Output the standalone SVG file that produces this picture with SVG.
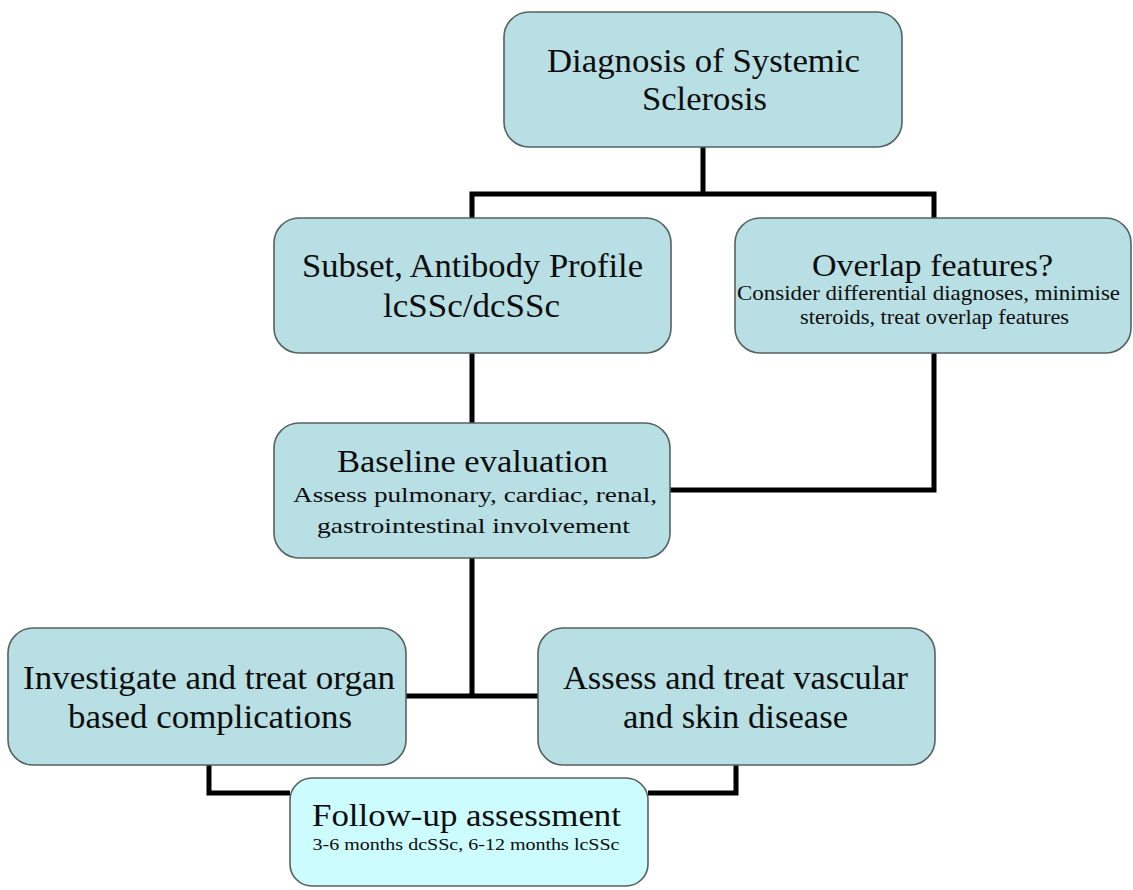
<svg xmlns="http://www.w3.org/2000/svg" width="1133" height="890" viewBox="0 0 1133 890" font-family="'Liberation Serif', Tinos, 'Times New Roman', Times, serif">
<style>
.box{fill:#b8dfe3;stroke:#56625f;stroke-width:1.6}
.fu{fill:#ccfcfd;stroke:#56625f;stroke-width:1.6}
.t{font-family:'Liberation Serif', Tinos, 'Times New Roman', Times, serif;fill:#0d0d0d;text-anchor:middle}
.big{font-size:33px}
.mid{font-size:31px}
.sm{font-size:21px}
.xs{font-size:16px}
.c{fill:none;stroke:#000;stroke-width:5;stroke-linejoin:miter;stroke-linecap:butt}
</style>
<rect width="1133" height="890" fill="#fff"/>
<g id="connectors">
<path class="c" d="M703 147V194"/>
<path class="c" d="M472 218V194H934V218"/>
<path class="c" d="M472 353V423"/>
<path class="c" d="M934 353V490H670"/>
<path class="c" d="M472 558V696"/>
<path class="c" d="M406 696H538"/>
<path class="c" d="M209 765V793H290"/>
<path class="c" d="M736 765V793H648"/>
</g>
<g id="diagnosis">
<rect class="box" x="504" y="12" width="398" height="135" rx="25"/>
<text class="t big" x="703.5" y="72" textLength="313" lengthAdjust="spacingAndGlyphs">Diagnosis of Systemic</text>
<text class="t big" x="704.5" y="110" textLength="125" lengthAdjust="spacingAndGlyphs">Sclerosis</text>
</g>
<g id="subset">
<rect class="box" x="274" y="218" width="397" height="135" rx="25"/>
<text class="t big" x="472.5" y="277" textLength="341" lengthAdjust="spacingAndGlyphs">Subset, Antibody Profile</text>
<text class="t big" x="471.5" y="317" textLength="177" lengthAdjust="spacingAndGlyphs">lcSSc/dcSSc</text>
</g>
<g id="overlap">
<rect class="box" x="735" y="218" width="396" height="135" rx="25"/>
<text class="t mid" x="932.5" y="276" textLength="241" lengthAdjust="spacingAndGlyphs">Overlap features?</text>
<text class="t sm" x="928.5" y="300" textLength="383" lengthAdjust="spacingAndGlyphs">Consider differential diagnoses, minimise</text>
<text class="t sm" x="934.5" y="324" textLength="269" lengthAdjust="spacingAndGlyphs">steroids, treat overlap features</text>
</g>
<g id="baseline">
<rect class="box" x="274" y="423" width="396" height="135" rx="25"/>
<text class="t mid" x="472.5" y="472" textLength="271" lengthAdjust="spacingAndGlyphs">Baseline evaluation</text>
<text class="t sm" x="475" y="502" textLength="364" lengthAdjust="spacingAndGlyphs">Assess pulmonary, cardiac, renal,</text>
<text class="t sm" x="473.5" y="533" textLength="313" lengthAdjust="spacingAndGlyphs">gastrointestinal involvement</text>
</g>
<g id="investigate">
<rect class="box" x="8" y="628" width="398" height="137" rx="25"/>
<text class="t big" x="209" y="689" textLength="372" lengthAdjust="spacingAndGlyphs">Investigate and treat organ</text>
<text class="t big" x="210" y="728" textLength="284" lengthAdjust="spacingAndGlyphs">based complications</text>
</g>
<g id="assess">
<rect class="box" x="538" y="628" width="397" height="137" rx="25"/>
<text class="t big" x="735.5" y="689" textLength="345" lengthAdjust="spacingAndGlyphs">Assess and treat vascular</text>
<text class="t big" x="735.5" y="728" textLength="225" lengthAdjust="spacingAndGlyphs">and skin disease</text>
</g>
<g id="followup">
<rect class="fu" x="290" y="778" width="358" height="108" rx="22"/>
<text class="t mid" x="466.5" y="826" textLength="309" lengthAdjust="spacingAndGlyphs">Follow-up assessment</text>
<text class="t xs" x="466" y="850" textLength="307" lengthAdjust="spacingAndGlyphs">3-6 months dcSSc, 6-12 months lcSSc</text>
</g>
</svg>
